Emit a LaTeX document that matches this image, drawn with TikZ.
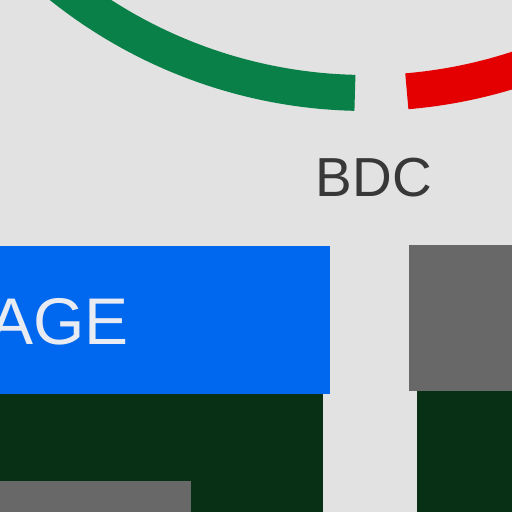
\documentclass[tikz,border=0pt]{standalone}
\usepackage{fontspec}
\setmainfont{Liberation Sans}
\definecolor{bgc}{RGB}{226,226,226}
\definecolor{arcgreen}{RGB}{8,128,72}
\definecolor{arcred}{RGB}{228,0,0}
\definecolor{barblue}{RGB}{0,104,238}
\definecolor{darkgrn}{RGB}{7,48,20}
\definecolor{midgray}{RGB}{104,104,104}
\definecolor{txtgray}{RGB}{56,56,56}
\definecolor{txtlight}{RGB}{232,236,242}
\tikzset{
  gaugearc/.style={line width=36pt, line cap=butt},
}
\begin{document}
\begin{tikzpicture}[x=1pt,y=1pt]
\useasboundingbox (0,0) rectangle (512,512);
\clip (0,0) rectangle (512,512);
\fill[bgc] (0,0) rectangle (512,512);
\coordinate (c) at (366,907);
% gauge arcs
\draw[gaugearc, arcgreen] (c) ++(225:488) arc[start angle=225, end angle=268.7, radius=488];
\draw[gaugearc, arcred] (c) ++(274.8:488) arc[start angle=274.8, end angle=305, radius=488];
% label
\node[anchor=base, inner sep=0, text=txtgray, font=\fontsize{55}{55}\selectfont] (bdc) at (374,315) {BDC};
% left blocks
\fill[barblue] (-10,118) rectangle (330,266);
\fill[darkgrn] (-10,-5) rectangle (323,118);
\fill[midgray] (-10,-5) rectangle (191,31);
\node[anchor=base east, inner sep=0, text=txtlight, font=\fontsize{66}{66}\selectfont] (age) at (129,167) {AGE};
% right blocks
\fill[midgray] (409,121) rectangle (520,267);
\fill[darkgrn] (417,-5) rectangle (520,121);
\end{tikzpicture}
\end{document}
